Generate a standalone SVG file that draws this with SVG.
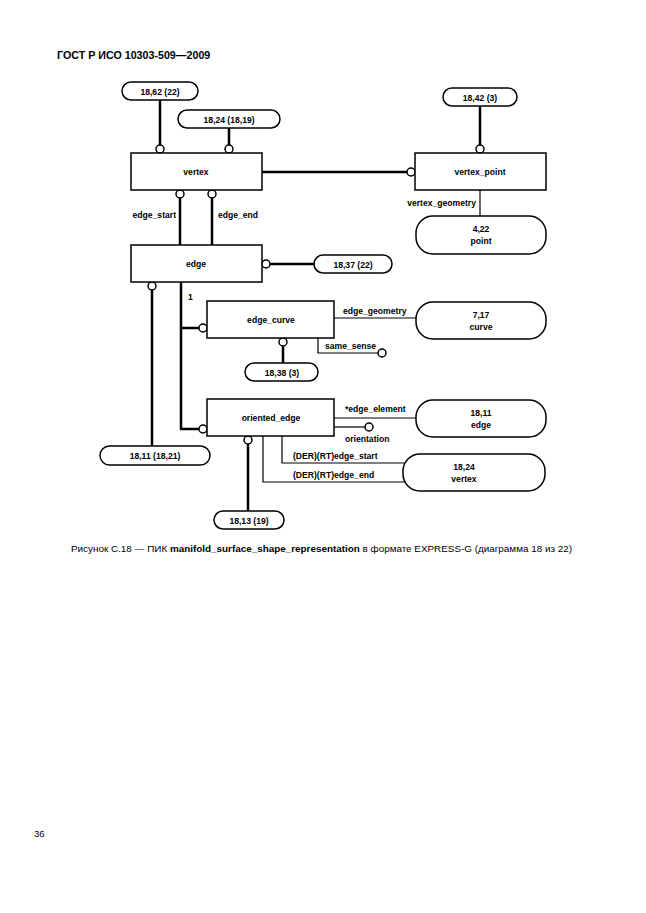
<svg xmlns="http://www.w3.org/2000/svg" width="646" height="913" viewBox="0 0 646 913">
<style>
.box{fill:#fff;stroke:#000;stroke-width:1.5}
.pill{fill:#fff;stroke:#000;stroke-width:1.5}
.t{font-family:"Liberation Sans",Arial,sans-serif;font-size:8.6px;font-weight:bold;text-anchor:middle}
.l{font-family:"Liberation Sans",Arial,sans-serif;font-size:8.6px;font-weight:bold}
.thick{fill:none;stroke:#000;stroke-width:2.5}
.thin{fill:none;stroke:#000;stroke-width:1.2}
.c{fill:#fff;stroke:#000;stroke-width:1.5}
</style>
<rect width="646" height="913" fill="#fff"/>
<text x="57" y="59" style="font-family:'Liberation Sans',Arial,sans-serif;font-size:10.7px;font-weight:bold">ГОСТ Р ИСО 10303-509—2009</text>

<g id="connectors">
  <line class="thick" x1="160" y1="100" x2="160" y2="145"/>
  <circle class="c" cx="160" cy="149" r="4"/>
  <line class="thick" x1="229" y1="128" x2="229" y2="145"/>
  <circle class="c" cx="229" cy="149" r="4"/>
  <line class="thick" x1="480" y1="106" x2="480" y2="145"/>
  <circle class="c" cx="480" cy="149" r="4"/>
  <line class="thick" x1="262" y1="172" x2="407" y2="172"/>
  <circle class="c" cx="411" cy="172" r="4"/>
  <line class="thin" x1="480" y1="190" x2="480" y2="216"/>
  <text class="l" x="476" y="206" text-anchor="end">vertex_geometry</text>
  <line class="thick" x1="180" y1="198" x2="180" y2="245"/>
  <circle class="c" cx="180" cy="194" r="4"/>
  <line class="thick" x1="212" y1="198" x2="212" y2="245"/>
  <circle class="c" cx="212" cy="194" r="4"/>
  <text class="l" x="176" y="218" text-anchor="end">edge_start</text>
  <text class="l" x="218" y="218">edge_end</text>
  <line class="thick" x1="270" y1="264" x2="314" y2="264"/>
  <circle class="c" cx="266" cy="264" r="4"/>
  <line class="thick" x1="152" y1="290" x2="152" y2="446"/>
  <circle class="c" cx="152" cy="286" r="4"/>
  <polyline class="thick" points="181,282 181,429 199,429"/>
  <line class="thick" x1="181" y1="328" x2="199" y2="328"/>
  <circle class="c" cx="203" cy="328" r="4"/>
  <circle class="c" cx="203" cy="429" r="4"/>
  <text class="l" x="188" y="300">1</text>
  <line class="thick" x1="283" y1="346" x2="283" y2="363"/>
  <circle class="c" cx="283" cy="342" r="4"/>
  <line class="thin" x1="334" y1="318" x2="416" y2="318"/>
  <text class="l" x="343" y="314">edge_geometry</text>
  <polyline class="thin" points="318,338 318,353 378,353"/>
  <circle class="c" cx="382" cy="353" r="4"/>
  <text class="l" x="325" y="349">same_sense</text>
  <line class="thick" x1="248" y1="444" x2="248" y2="511"/>
  <circle class="c" cx="248" cy="440" r="4"/>
  <line class="thin" x1="334" y1="418" x2="416" y2="418"/>
  <text class="l" x="345" y="412">*edge_element</text>
  <line class="thin" x1="334" y1="427" x2="365" y2="427"/>
  <circle class="c" cx="369" cy="427" r="4"/>
  <text class="l" x="345" y="442">orientation</text>
  <polyline class="thin" points="282,436 282,463 406,463"/>
  <text class="l" x="293" y="459">(DER)(RT)edge_start</text>
  <polyline class="thin" points="263,436 263,482 406,482"/>
  <text class="l" x="293" y="478">(DER)(RT)edge_end</text>
</g>

<g id="n_18_62"><rect class="pill" x="122" y="82" width="76" height="18" rx="9"/><text class="t" x="160" y="94.5">18,62 (22)</text></g>
<g id="n_18_24a"><rect class="pill" x="178" y="110" width="102" height="18" rx="9"/><text class="t" x="229" y="122.5">18,24 (18,19)</text></g>
<g id="n_18_42"><rect class="pill" x="443" y="88" width="74" height="18" rx="9"/><text class="t" x="480" y="100.5">18,42 (3)</text></g>
<g id="vertex"><rect class="box" x="131" y="153" width="131" height="37"/><text class="t" x="196" y="175">vertex</text></g>
<g id="vertex_point"><rect class="box" x="415" y="153" width="131" height="37"/><text class="t" x="480" y="175">vertex_point</text></g>
<g id="n_4_22"><rect class="pill" x="416" y="216" width="130" height="38" rx="17"/><text class="t" x="481" y="232">4,22</text><text class="t" x="481" y="244">point</text></g>
<g id="edge"><rect class="box" x="131" y="245" width="131" height="37"/><text class="t" x="196" y="266.5">edge</text></g>
<g id="n_18_37"><rect class="pill" x="314" y="255" width="78" height="18" rx="9"/><text class="t" x="353" y="267.5">18,37 (22)</text></g>
<g id="edge_curve"><rect class="box" x="207" y="301" width="127" height="37"/><text class="t" x="271" y="322.5">edge_curve</text></g>
<g id="n_7_17"><rect class="pill" x="416" y="302" width="130" height="37" rx="17"/><text class="t" x="481" y="318">7,17</text><text class="t" x="481" y="330">curve</text></g>
<g id="n_18_38"><rect class="pill" x="245" y="363" width="73" height="18" rx="9"/><text class="t" x="282" y="375.5">18,38 (3)</text></g>
<g id="oriented_edge"><rect class="box" x="207" y="399" width="127" height="37"/><text class="t" x="271" y="420.5">oriented_edge</text></g>
<g id="n_18_11e"><rect class="pill" x="416" y="400" width="130" height="37" rx="17"/><text class="t" x="481" y="416">18,11</text><text class="t" x="481" y="428">edge</text></g>
<g id="n_18_11"><rect class="pill" x="100" y="446" width="110" height="19" rx="9.5"/><text class="t" x="155" y="459">18,11 (18,21)</text></g>
<g id="n_18_24v"><rect class="pill" x="403" y="454" width="142" height="37" rx="17"/><text class="t" x="464" y="470">18,24</text><text class="t" x="464" y="482">vertex</text></g>
<g id="n_18_13"><rect class="pill" x="214" y="511" width="70" height="18" rx="9"/><text class="t" x="249" y="523.5">18,13 (19)</text></g>

<text x="71" y="552" style="font-family:'Liberation Sans',Arial,sans-serif;font-size:9.9px">Рисунок С.18 — ПИК <tspan font-weight="bold">manifold_surface_shape_representation</tspan> в формате EXPRESS-G (диаграмма 18 из 22)</text>
<text x="34" y="837" style="font-family:'Liberation Sans',Arial,sans-serif;font-size:9.5px">36</text>
</svg>
